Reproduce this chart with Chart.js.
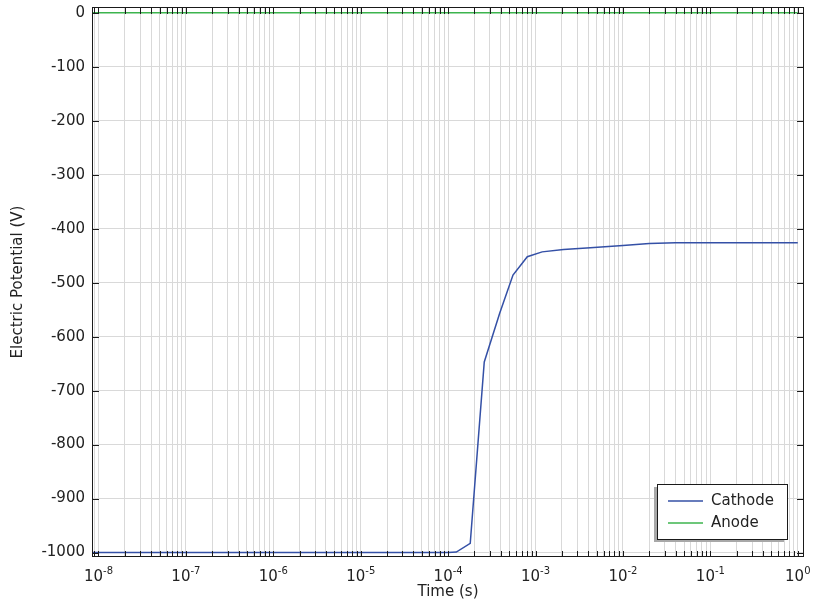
<!DOCTYPE html>
<html>
<head>
<meta charset="utf-8">
<script src="https://cdn.jsdelivr.net/npm/chart.js@4.4.1/dist/chart.umd.min.js"></script>
<style>
  html, body { margin: 0; padding: 0; background: #fff; }
  #wrap { width: 814px; height: 607px; position: relative; }
</style>
</head>
<body>
<div id="wrap"><canvas id="chart"></canvas></div>
<script>
// values
const timeValues = [8.43e-9, 1e-8, 1e-7, 1e-6, 1e-5, 1e-4, 1.24e-4, 1.79e-4, 2.59e-4, 3.88e-4, 5.52e-4, 8.05e-4, 1.19e-3, 2.09e-3, 4.24e-3, 1e-2, 2e-2, 4e-2, 1e-1, 1];
const cathodeValues = [-1000, -1000, -1000, -1000, -1000, -1000, -999, -983, -647, -557, -486, -452, -443, -438.5, -435.5, -431, -427.5, -426, -426, -426];
const anodeValues = [0, 0, 0, 0, 0, 0, 0, 0, 0, 0, 0, 0, 0, 0, 0, 0, 0, 0, 0, 0];
const seriesNames = ['Cathode', 'Anode'];
const seriesColors = ['#3450a6', '#3cb44e'];
const yTickValues = [-1000, -900, -800, -700, -600, -500, -400, -300, -200, -100, 0];
const xDecades = [-8, -7, -6, -5, -4, -3, -2, -1, 0];

const xMin = 8.43e-9, xMax = 1.178;
const yMin = -1008.2, yMax = 10.6;
const FONT = 'DejaVu Sans';

// every 1..9 x 10^n inside the range, for grid lines and ticks
function logTicks() {
    const out = [];
    for (let e = -9; e <= 0; e++) {
        for (let m = 1; m <= 9; m++) {
            const v = m * Math.pow(10, e);
            if (v >= xMin && v <= xMax) out.push({ value: v });
        }
    }
    return out;
}

const frameAndTicks = {
    id: 'frameAndTicks',
    afterDraw(chart) {
        const { ctx, chartArea: a, scales: { x, y } } = chart;
        ctx.save();
        ctx.strokeStyle = '#1a1a1a';
        ctx.lineWidth = 1;
        ctx.beginPath();
        x.ticks.forEach(t => {
            const px = Math.round(x.getPixelForValue(t.value)) + 0.5;
            ctx.moveTo(px, a.bottom); ctx.lineTo(px, a.bottom - 6);
            ctx.moveTo(px, a.top); ctx.lineTo(px, a.top + 7);
        });
        y.ticks.forEach(t => {
            const py = Math.round(y.getPixelForValue(t.value)) + 0.5;
            ctx.moveTo(a.left, py); ctx.lineTo(a.left + 7, py);
            ctx.moveTo(a.right, py); ctx.lineTo(a.right - 7, py);
        });
        ctx.stroke();
        ctx.strokeRect(Math.round(a.left) + 0.5, Math.round(a.top) + 0.5, Math.round(a.right - a.left) - 1, Math.round(a.bottom - a.top) - 1);

        // decade labels with superscript exponent
        ctx.fillStyle = '#222';
        ctx.textBaseline = 'alphabetic';
        xDecades.forEach(e => {
            const px = x.getPixelForValue(Math.pow(10, e));
            const base = '10', sup = String(e);
            ctx.font = '15px "' + FONT + '"';
            const wb = ctx.measureText(base).width;
            ctx.font = '10px "' + FONT + '"';
            const ws = ctx.measureText(sup).width;
            const left = px - (wb + ws) / 2;
            ctx.font = '15px "' + FONT + '"';
            ctx.textAlign = 'left';
            ctx.fillText(base, left, 581);
            ctx.font = '10px "' + FONT + '"';
            ctx.fillText(sup, left + wb, 574);
        });

        // legend box with shadow
        const bx = 657, by = 484, bw = 130, bh = 55;
        ctx.fillStyle = '#a8a8a8';
        ctx.fillRect(bx - 3, by + 3, bw, bh);
        ctx.fillStyle = '#fff';
        ctx.fillRect(bx, by, bw, bh);
        ctx.strokeStyle = '#1a1a1a';
        ctx.strokeRect(bx + 0.5, by + 0.5, bw, bh);
        chart.data.datasets.forEach((ds, i) => {
            const ly = 501 + i * 22;
            ctx.strokeStyle = ds.borderColor;
            ctx.lineWidth = 1.5;
            ctx.beginPath();
            ctx.moveTo(668, ly); ctx.lineTo(703, ly);
            ctx.stroke();
            ctx.fillStyle = '#222';
            ctx.font = '15px "' + FONT + '"';
            ctx.textAlign = 'left';
            ctx.textBaseline = 'middle';
            ctx.fillText(ds.label, 711, ly);
        });
        ctx.restore();
    }
};

const chart = new Chart(document.getElementById('chart'), {
    type: 'line',
    data: {
        datasets: [
            { label: seriesNames[0], data: timeValues.map((t, i) => ({ x: t, y: cathodeValues[i] })), borderColor: seriesColors[0], borderWidth: 1.5, pointRadius: 0, tension: 0 },
            { label: seriesNames[1], data: timeValues.map((t, i) => ({ x: t, y: anodeValues[i] })), borderColor: seriesColors[1], borderWidth: 1.5, pointRadius: 0, tension: 0 }
        ]
    },
    options: {
        responsive: true,
        maintainAspectRatio: false,
        animation: false,
        layout: { autoPadding: false, padding: { top: 7, right: 10, bottom: 0, left: 0 } },
        plugins: { legend: { display: false }, tooltip: { enabled: false } },
        scales: {
            x: {
                type: 'logarithmic',
                min: xMin, max: xMax,
                afterBuildTicks: s => { s.ticks = logTicks(); },
                afterFit: s => { s.height = 50; s.paddingLeft = 0; s.paddingRight = 0; },
                grid: { color: '#d9d9d9', lineWidth: 1, drawTicks: false },
                border: { display: false },
                ticks: { display: false },
                title: { display: true, text: 'Time (s)', color: '#222', font: { family: FONT, size: 15 }, padding: { top: 0, bottom: 6 } }
            },
            y: {
                type: 'linear',
                min: yMin, max: yMax,
                afterBuildTicks: s => { s.ticks = yTickValues.map(v => ({ value: v })); },
                afterFit: s => { s.width = 92; s.paddingTop = 0; s.paddingBottom = 0; },
                grid: { color: '#d9d9d9', lineWidth: 1, drawTicks: false },
                border: { display: false },
                ticks: { color: '#222', padding: 7, font: { family: FONT, size: 15 }, callback: v => String(v) },
                title: { display: true, text: 'Electric Potential (V)', color: '#222', font: { family: FONT, size: 15 }, padding: { top: 9, bottom: 0 } }
            }
        }
    },
    plugins: [frameAndTicks]
});
</script>
</body>
</html>
